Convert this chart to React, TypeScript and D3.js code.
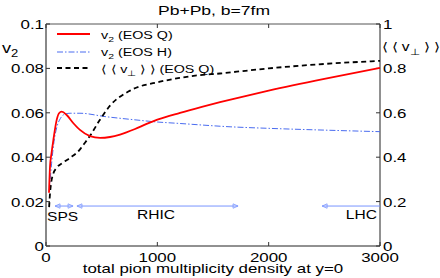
import React from "react"
import * as d3 from "d3"

// v2 (EOS Q), left axis
const qMult = [27, 36, 50, 66, 96, 117, 141, 186, 246, 305, 395, 485, 575, 665, 800, 904, 1000, 1204, 1400, 1563, 1743, 2000, 2500, 3000]
const qV2 = [0.024, 0.0357, 0.042, 0.0477, 0.0568, 0.0598, 0.0605, 0.059, 0.0553, 0.0523, 0.0495, 0.0487, 0.0491, 0.0502, 0.0527, 0.055, 0.0569, 0.06, 0.0627, 0.0648, 0.067, 0.07, 0.0753, 0.0802]

// v2 (EOS H), left axis
const hMult = [30, 50, 72, 100, 130, 160, 216, 305, 530, 845, 964, 1200, 1653, 2000, 2500, 3000]
const hV2 = [0.025, 0.037, 0.047, 0.054, 0.0575, 0.0592, 0.0598, 0.0598, 0.0583, 0.0566, 0.056, 0.0552, 0.0537, 0.053, 0.0522, 0.0515]

// <<v_perp>> (EOS Q), right axis
const vpMult = [28, 35, 45, 65, 95, 150, 216, 300, 350, 400, 480, 575, 755, 1024, 1200, 1383, 1563, 1713, 2000, 2500, 3000]
const vpVal = [0.175, 0.23, 0.28, 0.325, 0.352, 0.375, 0.397, 0.432, 0.465, 0.5, 0.565, 0.632, 0.7, 0.74, 0.757, 0.77, 0.777, 0.785, 0.8, 0.82, 0.834]

const xTicks = [0, 1000, 2000, 3000]
const leftTicks = [0, 0.02, 0.04, 0.06, 0.08, 0.1]
const rightTicks = [0, 0.2, 0.4, 0.6, 0.8, 1]

// collider ranges drawn as arrows at v2 = 0.018
const colliders = [
  { name: "SPS", from: 81, to: 243, left: true, right: true },
  { name: "RHIC", from: 278, to: 1725, left: true, right: true },
  { name: "LHC", from: 2480, to: 3000, left: true, right: false },
]
const arrowLevel = 0.018

const W = 440
const H = 278
const SX = 1.3
const FONT = "Liberation Sans, Arial, Helvetica, sans-serif"

const T = ({ x, y, size = 13, anchor = "start", children }: any) => (
  <text
    transform={`translate(${x},${y}) scale(${SX},1)`}
    fontSize={size}
    textAnchor={anchor}
    fontFamily={FONT}
    fill="#000"
  >
    {children}
  </text>
)

const App = () => {
  const x = d3.scaleLinear().domain([0, 3000]).range([46, 380])
  const yL = d3.scaleLinear().domain([0, 0.1]).range([246, 24])
  const yR = d3.scaleLinear().domain([0, 1]).range([246, 24])

  const mk = (xs: number[], ys: number[], y: any) =>
    d3
      .line<number>()
      .x((d) => x(d))
      .y((d, i) => y(ys[i]))
      .curve(d3.curveMonotoneX)(xs) || ""

  const qPath = mk(qMult, qV2, yL)
  const hPath = mk(hMult, hV2, yL)
  const vPath = mk(vpMult, vpVal, yR)

  const ay = yL(arrowLevel)
  const ac = "#7894ff"
  const tri = (tx: number, dir: number) =>
    `M${tx},${ay} L${tx - dir * 5},${ay - 2.2} L${tx - dir * 5},${ay + 2.2} Z`

  const x0 = x(0)
  const x1 = x(3000)
  const yt = yL(0.1)
  const yb = yL(0)

  return (
    <svg width={W} height={H} style={{ position: "absolute", left: 0, top: 0, background: "#fff" }}>
      <rect width={W} height={H} fill="#fff" />
      <T x={214} y={15} size={13.5} anchor="middle">Pb+Pb, b=7fm</T>

      {/* box */}
      <line x1={x0} x2={x1} y1={yt} y2={yt} stroke="#555" strokeWidth={1} />
      <line x1={x0} x2={x1} y1={yb} y2={yb} stroke="#222" strokeWidth={1} />
      <line x1={x1} x2={x1} y1={yt} y2={yb} stroke="#222" strokeWidth={1} />
      <line x1={x0} x2={x0} y1={yt} y2={yb} stroke="#888" strokeWidth={2} />

      {xTicks.map((t) => (
        <g key={"xt" + t}>
          <line x1={x(t)} x2={x(t)} y1={yb} y2={yb - 4} stroke="#333" />
          <line x1={x(t)} x2={x(t)} y1={yt} y2={yt + 4} stroke="#333" />
          <T x={x(t)} y={261.5} anchor="middle">{t}</T>
        </g>
      ))}
      {leftTicks.map((t) => (
        <g key={"lt" + t}>
          <line x1={x0} x2={x0 + 4} y1={yL(t)} y2={yL(t)} stroke="#333" />
          <T x={x0 - 2} y={yL(t) + 5} anchor="end">{t === 0.1 ? "0.1" : t === 0 ? "0" : t.toFixed(2)}</T>
        </g>
      ))}
      {rightTicks.map((t) => (
        <g key={"rt" + t}>
          <line x1={x1 - 4} x2={x1} y1={yR(t)} y2={yR(t)} stroke="#333" />
          <T x={x1 + 3} y={yR(t) + 5}>{t === 0 ? "0" : t === 1 ? "1" : t.toFixed(1)}</T>
        </g>
      ))}

      {/* axis labels */}
      <T x={2} y={53} size={14}>
        v<tspan fontSize={10} dy={4}>2</tspan>
      </T>
      <T x={382} y={51} size={12}>
        ⟨ ⟨ v<tspan fontSize={9} dy={4}>⊥</tspan><tspan dy={-4}> ⟩ ⟩</tspan>
      </T>
      <T x={213} y={273} anchor="middle">total pion multiplicity density at y=0</T>

      {/* collider arrows */}
      {colliders.map((c) => (
        <g key={c.name}>
          <line x1={x(c.from)} x2={x(c.to)} y1={ay} y2={ay} stroke={ac} strokeWidth={1} />
          {c.left && <path d={tri(x(c.from), -1)} fill="none" stroke={ac} strokeWidth={0.8} />}
          {c.right && <path d={tri(x(c.to), 1)} fill="none" stroke={ac} strokeWidth={0.8} />}
        </g>
      ))}
      <T x={47} y={221} size={12}>SPS</T>
      <T x={156} y={219} size={12} anchor="middle">RHIC</T>
      <T x={377} y={219} size={12} anchor="end">LHC</T>

      {/* curves */}
      <path d={hPath} fill="none" stroke="#4a6cf0" strokeWidth={1} strokeDasharray="6,2,1.5,2" />
      <path d={vPath} fill="none" stroke="#000" strokeWidth={1.8} strokeDasharray="5,3.5" />
      <path d={qPath} fill="none" stroke="#ff0000" strokeWidth={1.8} />

      {/* legend */}
      <line x1={57} x2={90} y1={34} y2={34} stroke="#ff0000" strokeWidth={1.8} />
      <line x1={57} x2={90} y1={52} y2={52} stroke="#4a6cf0" strokeWidth={1} strokeDasharray="6,2,1.5,2" />
      <line x1={57} x2={90} y1={68} y2={68} stroke="#000" strokeWidth={1.8} strokeDasharray="5,3.5" />
      <T x={101} y={39} size={11}>
        v<tspan fontSize={8} dy={3}>2</tspan><tspan dy={-3}> (EOS Q)</tspan>
      </T>
      <T x={101} y={56} size={11}>
        v<tspan fontSize={8} dy={3}>2</tspan><tspan dy={-3}> (EOS H)</tspan>
      </T>
      <T x={101} y={73} size={11}>
        ⟨ ⟨ v<tspan fontSize={8} dy={3}>⊥</tspan><tspan dy={-3}> ⟩ ⟩ (EOS Q)</tspan>
      </T>
    </svg>
  )
}

export default App
